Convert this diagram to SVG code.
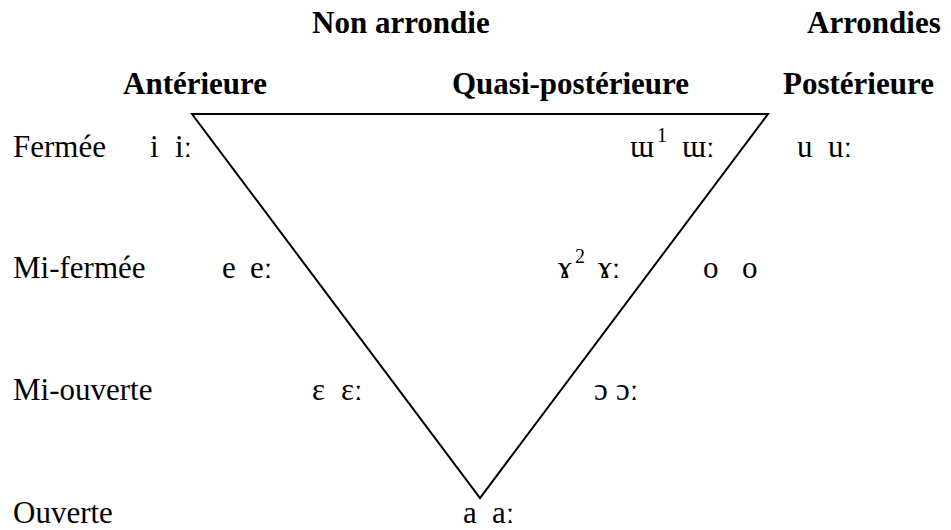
<svg xmlns="http://www.w3.org/2000/svg" width="951" height="530" viewBox="0 0 951 530">
<style>
text { font-family: "Liberation Serif", "Times New Roman", serif; font-size: 31px; fill: #000; }
.h { font-weight: bold; }
.sup { font-size: 20px; }
.tri { fill: none; stroke: #000; stroke-width: 2; }
</style>
<rect width="951" height="530" fill="#fff"/>
<g id="connectors">
<polygon id="triangle" class="tri" points="192,114 768,114 480,498"/>
</g>
<g id="headers">
<text class="h" x="312" y="33">Non arrondie</text>
<text class="h" x="807" y="33">Arrondies</text>
<text class="h" x="123" y="94">Antérieure</text>
<text class="h" x="452" y="94">Quasi-postérieure</text>
<text class="h" x="783" y="94">Postérieure</text>
</g>
<g id="row-fermee">
<text x="13" y="157">Fermée</text>
<text x="150" y="157">i</text>
<text x="175" y="157">iː</text>
<text x="630" y="157">ɯ</text>
<text class="sup" x="657" y="142">1</text>
<text x="682" y="157">ɯː</text>
<text x="797" y="157">u</text>
<text x="828" y="157">uː</text>
</g>
<g id="row-mi-fermee">
<text x="13" y="278">Mi-fermée</text>
<text x="222" y="278">e</text>
<text x="250" y="278">eː</text>
<text x="558" y="278">ɤ</text>
<text class="sup" x="575" y="263">2</text>
<text x="598" y="278">ɤː</text>
<text x="703" y="278">o</text>
<text x="742" y="278">o</text>
</g>
<g id="row-mi-ouverte">
<text x="13" y="400">Mi-ouverte</text>
<text x="312" y="400">ε</text>
<text x="341" y="400">εː</text>
<text x="594" y="400">ɔ</text>
<text x="616" y="400">ɔː</text>
</g>
<g id="row-ouverte">
<text x="13" y="523">Ouverte</text>
<text x="463" y="523">a</text>
<text x="492" y="523">aː</text>
</g>
</svg>
